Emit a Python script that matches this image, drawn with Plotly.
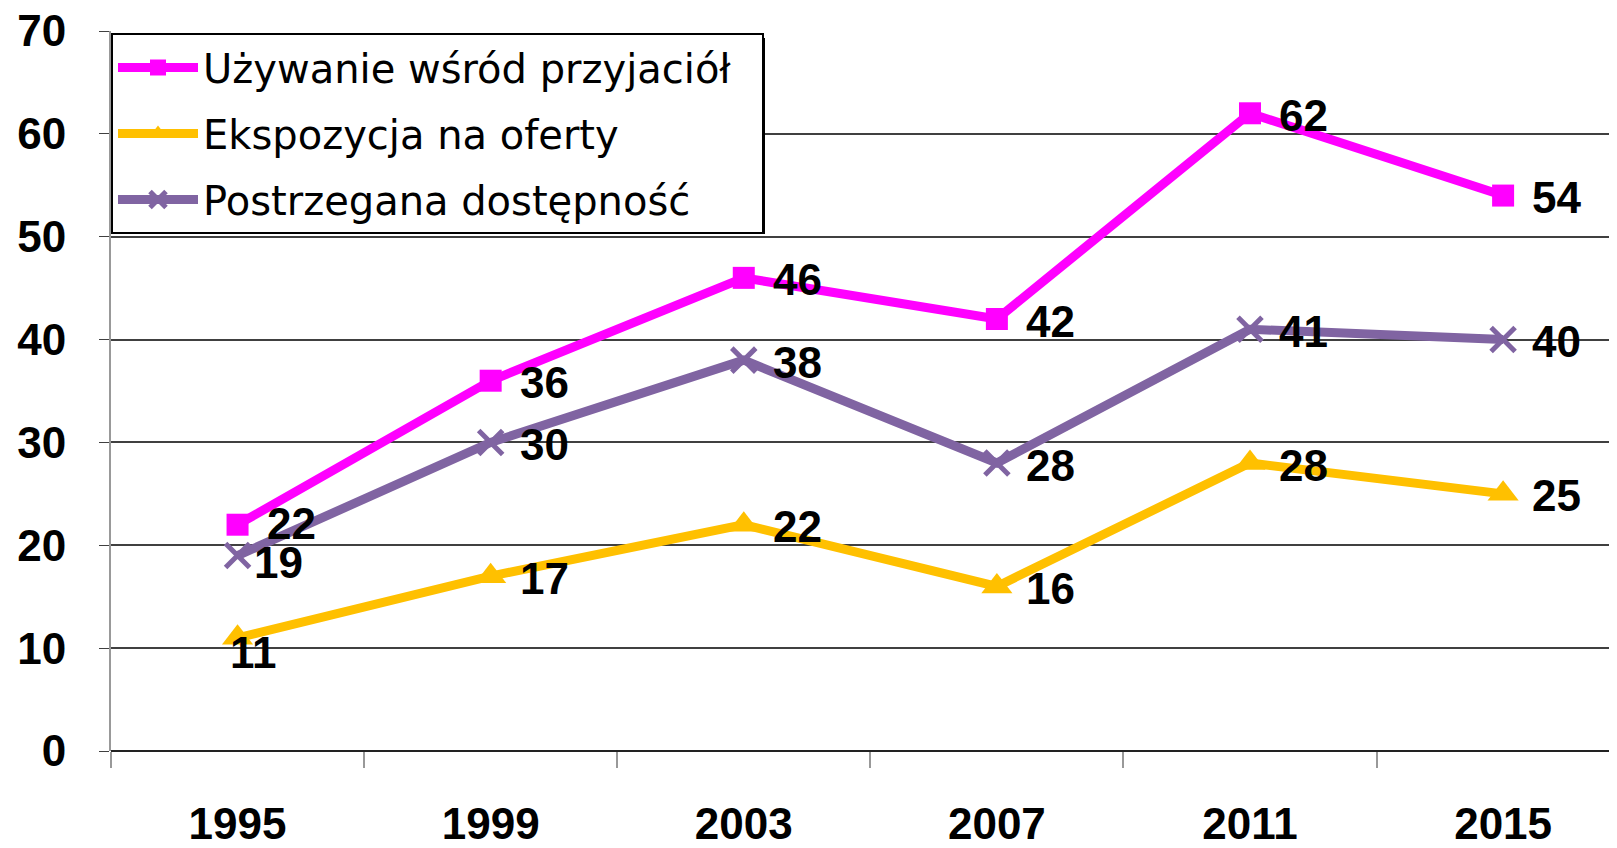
import plotly.graph_objects as go

years = ["1995", "1999", "2003", "2007", "2011", "2015"]
uzywanie = [22, 36, 46, 42, 62, 54]
ekspozycja = [11, 17, 22, 16, 28, 25]
dostepnosc = [19, 30, 38, 28, 41, 40]

names = ["Używanie wśród przyjaciół", "Ekspozycja na oferty", "Postrzegana dostępność"]
colors = ["#FF00FF", "#FFC000", "#8064A2"]
symbols = ["square", "triangle-up", "x-thin-open"]
series = [uzywanie, ekspozycja, dostepnosc]

# label offsets (px) for data labels: default right of marker
default_shift = (27, -2)
overrides = {(0, 0): (27, 1), (1, 0): (-10, -15), (2, 0): (14, -7)}

PAD = "\u00a0\u00a0"  # right padding inside the legend box

fig = go.Figure()
for i, (nm, col, sym, vals) in enumerate(zip(names, colors, symbols, series)):
    if sym == "x-thin-open":
        mk = dict(symbol=sym, size=24, color=col, line=dict(width=5, color=col))
    elif sym == "triangle-up":
        mk = dict(symbol=sym, size=27, color=col)
    else:
        mk = dict(symbol=sym, size=22, color=col)
    fig.add_trace(go.Scatter(
        x=years, y=vals, name=nm + PAD, mode="lines+markers",
        line=dict(color=col, width=9), marker=mk,
        legendgroup=str(i),
    ))

annotations = []
for i, vals in enumerate(series):
    for j, v in enumerate(vals):
        xs, ys = overrides.get((i, j), default_shift)
        annotations.append(dict(
            x=j, y=v, xref="x", yref="y", text=str(v), showarrow=False,
            xanchor="left", yanchor="middle", xshift=xs, yshift=ys,
            font=dict(family="Liberation Sans", size=44, color="black", weight="bold"),
        ))

# page body has an 8px margin; compensate
O = 8
W, H = 1617 - O, 848 - O
left, top, bottom = 111 - O, 31 - O, 97
pw, ph = W - left, H - top - bottom
# legend box in final-window coordinates
lx0, lx1, ly0, ly1 = 111, 760, 33, 229
sh = 5

def px_x(x):
    return (x - O - left) / pw

def px_y(y):
    return (H - bottom - (y - O)) / ph

fig.update_layout(
    width=W, height=H,
    margin=dict(l=left, r=0, t=top, b=bottom, autoexpand=False),
    paper_bgcolor="white", plot_bgcolor="white",
    font=dict(family="Liberation Sans", color="black"),
    annotations=annotations,
    showlegend=True,
    legend=dict(
        x=px_x(lx0), y=px_y(ly0), xanchor="left", yanchor="top",
        bgcolor="white", bordercolor="black", borderwidth=2,
        font=dict(family="DejaVu Sans", size=40, color="black"),
        traceorder="grouped", tracegroupgap=11,
        itemwidth=80,
    ),
    shapes=[dict(
        type="rect", xref="paper", yref="paper", layer="above",
        x0=px_x(lx0 + sh), x1=px_x(lx1 + sh),
        y0=px_y(ly1 + sh), y1=px_y(ly0 + sh),
        fillcolor="black", line=dict(width=0),
    )],
    xaxis=dict(
        type="category", range=[-0.5, 5.45],
        showgrid=False, showline=False, zeroline=False,
        ticks="outside", tickson="boundaries", ticklen=16, tickcolor="#999999", tickwidth=2,
        ticklabelstandoff=43,
        tickfont=dict(family="Liberation Sans", size=44, color="black", weight="bold"),
    ),
    yaxis=dict(
        range=[0, 70], dtick=10,
        showgrid=True, gridcolor="#404040", gridwidth=1.5,
        showline=True, linecolor="#999999", linewidth=2,
        zeroline=True, zerolinecolor="#222222", zerolinewidth=2,
        ticks="outside", ticklen=10, tickcolor="#404040",
        ticklabelstandoff=24, ticklabeloverflow="allow",
        tickfont=dict(family="Liberation Sans", size=44, color="black", weight="bold"),
    ),
)

fig.write_html("out.html")
